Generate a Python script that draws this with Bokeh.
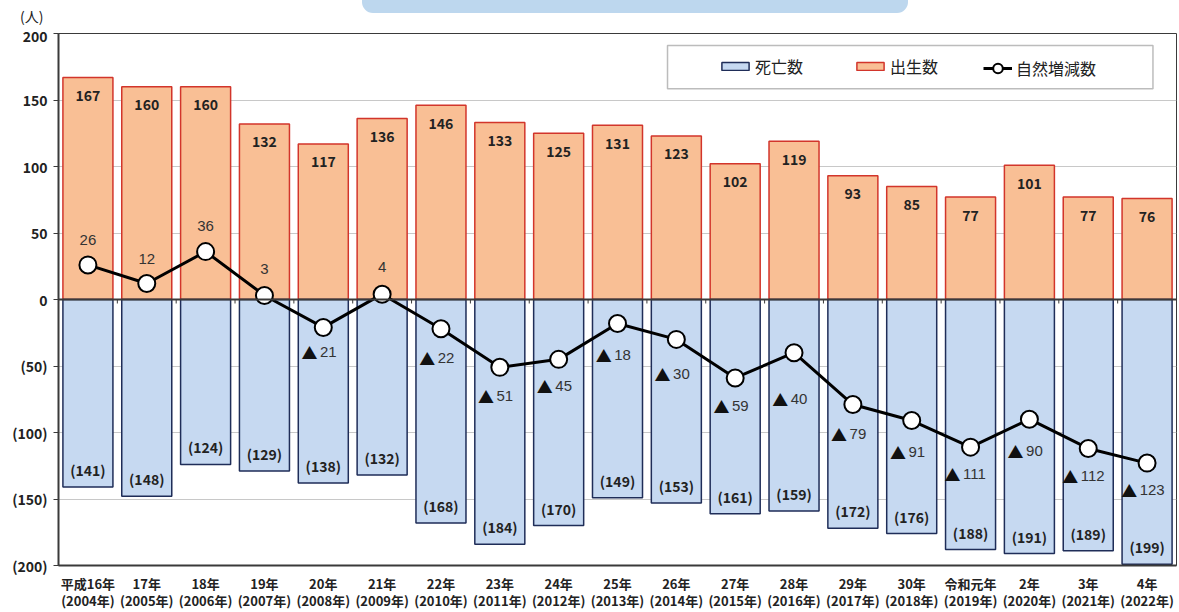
from bokeh.plotting import figure
from bokeh.models import (FixedTicker, Range1d, Legend, LegendItem, BoxAnnotation,
                          ColumnDataSource, Span, Div)
from bokeh.layouts import column
from bokeh.core.properties import value
from bokeh.embed import file_html
from bokeh.resources import INLINE

# ---- data ----
categories = ["平成16年\n(2004年)", "17年\n(2005年)", "18年\n(2006年)", "19年\n(2007年)",
              "20年\n(2008年)", "21年\n(2009年)", "22年\n(2010年)", "23年\n(2011年)",
              "24年\n(2012年)", "25年\n(2013年)", "26年\n(2014年)", "27年\n(2015年)",
              "28年\n(2016年)", "29年\n(2017年)", "30年\n(2018年)", "令和元年\n(2019年)",
              "2年\n(2020年)", "3年\n(2021年)", "4年\n(2022年)"]
births = [167, 160, 160, 132, 117, 136, 146, 133, 125, 131, 123, 102, 119, 93, 85, 77, 101, 77, 76]
deaths = [141, 148, 124, 129, 138, 132, 168, 184, 170, 149, 153, 161, 159, 172, 176, 188, 191, 189, 199]
natural = [26, 12, 36, 3, -21, 4, -22, -51, -45, -18, -30, -59, -40, -79, -91, -111, -90, -112, -123]
y_ticks = [-200, -150, -100, -50, 0, 50, 100, 150, 200]
y_tick_labels = ["(200)", "(150)", "(100)", "(50)", "0", "50", "100", "150", "200"]
unit_label = "(人)"

# layout only: vertical pixel offset of each natural-change label below/above its point
label_dy = [-25, -25, -26, -27, 25, -27, 29, 29, 27, 32, 35, 28, 46, 29, 31, 27, 32, 28, 27]

JP = "Noto Sans CJK JP"
LAT = "Liberation Sans"

xs = list(range(len(categories)))
src = ColumnDataSource(dict(
    x=xs,
    births=births,
    neg_deaths=[-d for d in deaths],
    natural=natural,
    b_lbl=[str(b) for b in births],
    d_lbl=["(%d)" % d for d in deaths],
))

# header strip: unit label and the light-blue banner at the top edge
header = Div(
    text=('<div style="display:flex;align-items:flex-start;height:25px;'
          'font-family:\'Noto Sans CJK JP\';font-size:14px;color:#222222;">'
          '<div style="width:342px;margin-left:20px;margin-top:8px;line-height:16px;">'
          + unit_label + '</div>'
          '<div style="width:546px;height:13px;background:#BDD7EE;'
          'border-radius:0 0 11px 11px;"></div></div>'),
    width=1179, height=25, margin=0)

p = figure(width=1179, height=587, output_backend="svg", toolbar_location=None,
           x_range=Range1d(-0.5, len(categories) - 0.5), y_range=Range1d(-200, 200),
           min_border_left=58, min_border_right=3, min_border_top=8, min_border_bottom=46)
p.background_fill_color = "white"
p.border_fill_color = "white"
p.outline_line_color = "#3a3a3a"
p.outline_line_width = 1

# grid
p.xgrid.visible = False
p.ygrid.ticker = FixedTicker(ticks=[-150, -100, -50, 50, 100, 150])
p.ygrid.grid_line_color = "#c8c8c8"
p.ygrid.grid_line_width = 1

# axes
p.yaxis.ticker = FixedTicker(ticks=y_ticks)
p.yaxis.major_label_overrides = {t: l for t, l in zip(y_ticks, y_tick_labels)}
p.yaxis.major_label_text_font = JP
p.yaxis.major_label_text_font_style = "bold"
p.yaxis.major_label_text_font_size = "14px"
p.yaxis.major_label_text_color = "#222222"
p.yaxis.axis_line_color = "#3a3a3a"
p.yaxis.axis_line_width = 2
p.yaxis.major_tick_out = 5
p.yaxis.major_tick_in = 0
p.yaxis.minor_tick_out = 0
p.yaxis.minor_tick_in = 0
p.yaxis.major_tick_line_color = "#3a3a3a"
p.yaxis.major_label_standoff = 6

p.xaxis.ticker = FixedTicker(ticks=xs)
p.xaxis.major_label_overrides = {i: c for i, c in zip(xs, categories)}
p.xaxis.major_label_text_font = JP
p.xaxis.major_label_text_font_style = "bold"
p.xaxis.major_label_text_font_size = "13px"
p.xaxis.major_label_text_color = "#222222"
p.xaxis.major_label_text_line_height = 0.9
p.xaxis.axis_line_color = "#3a3a3a"
p.xaxis.axis_line_width = 2
p.xaxis.major_tick_out = 0
p.xaxis.major_tick_in = 0
p.xaxis.minor_tick_out = 0
p.xaxis.minor_tick_in = 0
p.xaxis.major_label_standoff = 8

# bars
r_birth = p.vbar(x="x", top="births", bottom=0, width=0.85, source=src,
                 fill_color="#F9BF95", line_color="#D2352B", line_width=1.5)
r_death = p.vbar(x="x", top=0, bottom="neg_deaths", width=0.85, source=src,
                 fill_color="#C6D9F1", line_color="#1F2D58", line_width=1.5)

# zero line and small ticks at category boundaries
p.add_layout(Span(location=0, dimension="width", line_color="#3a3a3a", line_width=2))
bounds = [i + 0.5 for i in xs[:-1]]
p.segment(x0=bounds, y0=[0] * len(bounds), x1=bounds, y1=[-3] * len(bounds),
          line_color="#3a3a3a", line_width=1)

# bar labels
p.text(x="x", y="births", text="b_lbl", source=src, text_align="center",
       text_baseline="middle", y_offset=18, text_font=value(JP),
       text_font_style="bold", text_font_size="14px", text_color="#222222")
p.text(x="x", y="neg_deaths", text="d_lbl", source=src, text_align="center",
       text_baseline="middle", y_offset=-17, text_font=value(JP),
       text_font_style="bold", text_font_size="14px", text_color="#222222")

# natural change line
r_line = p.line(x="x", y="natural", source=src, line_color="black", line_width=3)
r_pts = p.scatter(x="x", y="natural", source=src, size=17, marker="circle",
                  fill_color="white", line_color="black", line_width=2)

# natural change labels
pos_x, pos_y, pos_dy, pos_t = [], [], [], []
neg_x, neg_y, neg_dy, neg_t, tri_dx, dig_dx = [], [], [], [], [], []
for x, n, dy in zip(xs, natural, label_dy):
    if n >= 0:
        pos_x.append(x); pos_y.append(n); pos_dy.append(dy); pos_t.append(str(n))
    else:
        s = str(-n)
        total = 15 + 3 + 8.3 * len(s)
        left = -4 - total / 2
        neg_x.append(x); neg_y.append(n); neg_dy.append(dy); neg_t.append(s)
        tri_dx.append(left + 7.5)
        dig_dx.append(left + 18)

p.text(x=pos_x, y=pos_y, text=pos_t, text_align="center", text_baseline="middle",
       y_offset=pos_dy, text_font=value(LAT), text_font_size="15px", text_color="#333333")
p.text(x=neg_x, y=neg_y, text=["▲"] * len(neg_x), text_align="center",
       text_baseline="middle", x_offset=tri_dx, y_offset=neg_dy, text_font=value(JP),
       text_font_size="16px", text_color="#111111")
p.text(x=neg_x, y=neg_y, text=neg_t, text_align="left", text_baseline="middle",
       x_offset=dig_dx, y_offset=neg_dy, text_font=value(LAT), text_font_size="15px",
       text_color="#333333")

# legend frame
p.add_layout(BoxAnnotation(left=9.85, right=18.1, top=191, bottom=158.5,
                           fill_color="white", fill_alpha=1.0,
                           line_color="#222222", line_width=1.5, level="annotation"))

leg1 = Legend(items=[LegendItem(label="死亡数", renderers=[r_death]),
                     LegendItem(label="出生数", renderers=[r_birth])],
              orientation="horizontal", location=(660, 487), padding=0, margin=0,
              spacing=50, glyph_width=34, glyph_height=10, label_height=20,
              label_standoff=3, label_text_font=JP, label_text_font_size="16px",
              label_text_color="#222222", border_line_alpha=0, background_fill_alpha=0)
leg2 = Legend(items=[LegendItem(label="自然増減数", renderers=[r_line, r_pts])],
              orientation="horizontal", location=(925, 485), padding=0, margin=0,
              glyph_width=29, glyph_height=24, label_height=24,
              label_standoff=4, label_text_font=JP, label_text_font_size="16px",
              label_text_color="#222222", border_line_alpha=0, background_fill_alpha=0)
p.add_layout(leg1, "center")
p.add_layout(leg2, "center")

layout = column(header, p, spacing=0)
open("out.html", "w").write(file_html(layout, INLINE))
